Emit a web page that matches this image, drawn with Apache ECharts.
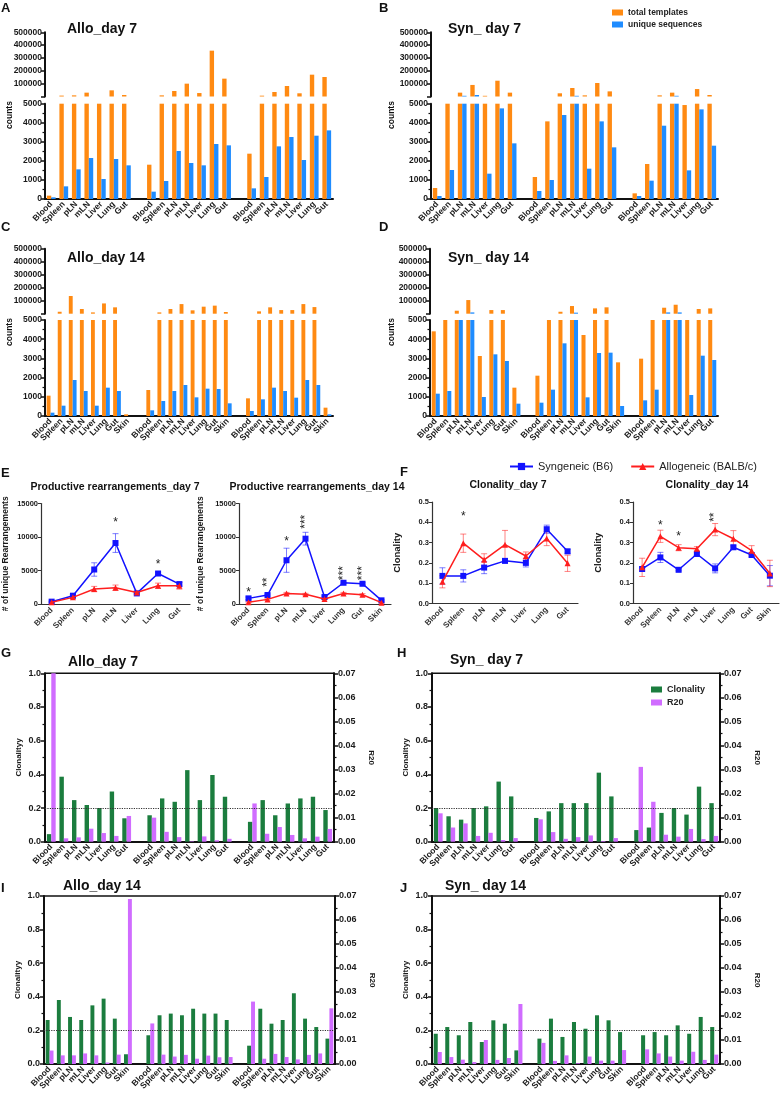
<!DOCTYPE html>
<html>
<head>
<meta charset="utf-8">
<title>TCR repertoire panels</title>
<script src="https://cdn.jsdelivr.net/npm/echarts@6/dist/echarts.min.js"></script>
<style>
html, body { margin: 0; padding: 0; background: #fff; }
#main { width: 783px; height: 1093px; }
</style>
</head>
<body>
<div id="main"></div>
<script>
// ---- categories ----
var tissues7 = ['Blood', 'Spleen', 'pLN', 'mLN', 'Liver', 'Lung', 'Gut'];
var tissues8 = ['Blood', 'Spleen', 'pLN', 'mLN', 'Liver', 'Lung', 'Gut', 'Skin'];

// ---- A: Allo day 7 counts (3 mice) ----
var alloD7Total = [[175, 7000, 9000, 30000, 5000, 48000, 11700], [1800, 9000, 43000, 100000, 27000, 357000, 139000], [2378, 6500, 35000, 82000, 25000, 170000, 152000]];
var alloD7Unique = [[87, 664, 1556, 2150, 1049, 2098, 1766], [385, 944, 2517, 1888, 1766, 2885, 2815], [559, 1154, 2762, 3252, 2045, 3322, 3601]];
// ---- B: Syn day 7 counts ----
var synD7Total = [[577, 5000, 30000, 90000, 5500, 123000, 30000], [1154, 4073, 25000, 66000, 9000, 105000, 40000], [297, 1836, 9000, 30000, 4930, 58000, 11700]];
var synD7Unique = [[157, 1521, 5500, 11700, 1329, 4755, 2920], [420, 997, 4406, 5500, 1591, 4073, 2710], [157, 962, 3846, 5500, 1503, 4703, 2797]];
// ---- C: Allo day 14 counts ----
var alloD14Total = [[1059, 15000, 136000, 36000, 10000, 79000, 49000, 87], [1354, 10000, 36000, 74000, 26000, 54000, 62000, 13000], [920, 18000, 49000, 28000, 28000, 74000, 51000, 434]];
var alloD14Unique = [[174, 538, 1875, 1302, 538, 1476, 1302, 0], [295, 781, 1302, 1615, 972, 1424, 1406, 660], [260, 868, 1476, 1302, 955, 1875, 1615, 87]];
// ---- D: Syn day 14 counts ----
var synD14Total = [[4410, 5000, 23000, 105000, 3125, 28000, 28000, 1476], [2100, 5000, 15000, 59000, 4219, 41000, 49000, 2795], [2986, 5000, 46000, 69000, 5000, 36000, 41000]];
var synD14Unique = [[1163, 1302, 5000, 10000, 990, 3212, 2865, 642], [694, 1372, 3785, 8000, 972, 3281, 3299, 521], [816, 1372, 10000, 10000, 1094, 3142, 2917]];

// ---- E: productive rearrangements (mean, sem) ----
var rearrSynD7 = [350, 1240, 5150, 9100, 1580, 4550, 2970];
var rearrSynD7Err = [100, 150, 1000, 1400, 150, 200, 300];
var rearrAlloD7 = [250, 990, 2230, 2430, 1730, 2720, 2720];
var rearrAlloD7Err = [100, 150, 400, 400, 150, 400, 500];
var rearrSynD14 = [840, 1340, 6530, 9750, 1040, 3170, 3020, 545];
var rearrSynD14Err = [200, 150, 1800, 950, 150, 100, 150, 100];
var rearrAlloD14 = [250, 690, 1580, 1440, 740, 1580, 1390, 200];
var rearrAlloD14Err = [100, 150, 150, 150, 100, 150, 150, 80];
// stars: [category index, text, y value, vertical]
var starsRearrD7 = [[3, '*', 12600, 0], [5, '*', 6290, 0]];
var starsRearrD14 = [[0, '*', 2080, 0], [1, '**', 3710, 1], [2, '*', 9750, 0], [3, '***', 12720, 1], [5, '***', 5050, 1], [6, '***', 5050, 1]];

// ---- F: clonality (mean, sem) ----
var clonSynD7 = [0.136, 0.136, 0.177, 0.21, 0.2, 0.366, 0.257];
var clonSynD7Err = [0.04, 0.03, 0.03, 0.01, 0.02, 0.02, 0.01];
var clonAlloD7 = [0.107, 0.297, 0.215, 0.29, 0.234, 0.32, 0.198];
var clonAlloD7Err = [0.03, 0.045, 0.03, 0.07, 0.02, 0.035, 0.04];
var clonSynD14 = [0.17, 0.227, 0.166, 0.244, 0.173, 0.277, 0.239, 0.137];
var clonSynD14Err = [0.01, 0.025, 0.005, 0.008, 0.022, 0.01, 0.01, 0.05];
var clonAlloD14 = [0.178, 0.331, 0.275, 0.27, 0.364, 0.319, 0.26, 0.148];
var clonAlloD14Err = [0.045, 0.03, 0.015, 0.01, 0.03, 0.04, 0.025, 0.065];
var starsClonD7 = [[1, '*', 0.443, 0]];
var starsClonD14 = [[1, '*', 0.40, 0], [2, '*', 0.346, 0], [4, '**', 0.44, 1]];

// ---- G-J: clonality & R20 per mouse ----
var gClon = [[0.045, 0.386, 0.247, 0.218, 0.2, 0.298, 0.139], [0.157, 0.257, 0.237, 0.425, 0.247, 0.396, 0.267], [0.118, 0.247, 0.157, 0.227, 0.257, 0.267, 0.188]];
var gR20 = [[0.07, 0.0014, 0.0018, 0.0054, 0.0036, 0.0024, 0.0107], [0.0100, 0.0041, 0.0019, 0.0002, 0.0022, 0.0006, 0.0012], [0.0159, 0.0033, 0.0061, 0.0028, 0.0014, 0.0021, 0.0053]];
var hClon = [[0.2, 0.151, 0.131, 0.2, 0.21, 0.357, 0.269], [0.141, 0.18, 0.229, 0.229, 0.229, 0.41, 0.269], [0.069, 0.084, 0.171, 0.2, 0.161, 0.327, 0.229]];
var hR20 = [[0.0118, 0.0059, 0.0076, 0.0024, 0.0037, 0.0007, 0.0015], [0.0093, 0.004, 0.0012, 0.0019, 0.0026, 0.0003, 0.0015], [0.0311, 0.0166, 0.0029, 0.0021, 0.0053, 0.0011, 0.0024]];
var iClon = [[0.262, 0.381, 0.28, 0.262, 0.349, 0.389, 0.27, 0.058], [0.171, 0.29, 0.3, 0.29, 0.329, 0.3, 0.3, 0.262], [0.109, 0.329, 0.24, 0.262, 0.421, 0.27, 0.22, 0.151]];
var iR20 = [[0.0056, 0.0036, 0.0036, 0.0044, 0.0036, 0.0006, 0.0039, 0.0688], [0.0169, 0.0039, 0.0031, 0.0038, 0.0022, 0.0035, 0.0028, 0.0029], [0.026, 0.0022, 0.0042, 0.0029, 0.0019, 0.0038, 0.0044, 0.0232]];
var jClon = [[0.18, 0.22, 0.171, 0.25, 0.131, 0.26, 0.24, 0.081], [0.151, 0.27, 0.161, 0.25, 0.21, 0.29, 0.26, 0.19], [0.171, 0.19, 0.171, 0.23, 0.18, 0.28, 0.22]];
var jR20 = [[0.005, 0.0029, 0.0018, 0.0008, 0.01, 0.0017, 0.0025, 0.025], [0.0088, 0.0013, 0.0036, 0.0003, 0.0031, 0.0014, 0.0014, 0.0058], [0.0061, 0.0044, 0.0031, 0.0014, 0.0051, 0.0017, 0.0039]];

var BREAK = 5000;
var FONT = '"Liberation Sans", Arial, Helvetica, sans-serif';
var AX = '#111';
var ORANGE = '#ff8a12', BLUE = '#1f8cff', GREEN = '#1b7d3e', VIOLET = '#d06cff';
var LBLUE = '#1212ff', LRED = '#ff1e1e';

// join the 3 mice with an empty slot between them
function withGaps(groups, blank) {
  var out = [];
  groups.forEach(function (g, i) {
    if (i) out.push(blank);
    out = out.concat(g);
  });
  return out;
}
function labelsFor(groups) {
  return withGaps(groups.map(function (g) { return g.length === 8 ? tissues8 : tissues7; }), '');
}
function upperPart(v) { return v != null && v > BREAK ? v : '-'; }
function lowerPart(v) { return v == null ? '-' : Math.min(v, BREAK); }
function lbl(size, extra) {
  return Object.assign({fontSize: size, fontWeight: 'bold', color: '#1a1a1a', fontFamily: FONT}, extra || {});
}

var grids = [], xAxes = [], yAxes = [], series = [];

function valueAxis(grid, min, max, interval, digits, extra) {
  return Object.assign({
    gridIndex: grid, type: 'value', min: min, max: max, interval: interval,
    axisLine: {show: true, lineStyle: {color: AX, width: 2}},
    axisTick: {show: true, length: 4, lineStyle: {color: AX, width: 1.5}},
    splitLine: {show: false},
    axisLabel: lbl(8.5, {margin: 3, formatter: function (v) { return digits == null ? String(v) : v.toFixed(digits); }})
  }, extra || {});
}

function countPanel(left, width, upTop, upH, lowTop, lowH, total, unique) {
  var labels = labelsFor(total);
  var tot = withGaps(total, null), uni = withGaps(unique, null);
  var gu = grids.length;
  grids.push({left: left, width: width, top: upTop, height: upH});
  grids.push({left: left, width: width, top: lowTop, height: lowH});
  var xu = xAxes.length;
  xAxes.push({gridIndex: gu, type: 'category', data: labels, show: false});
  xAxes.push({gridIndex: gu + 1, type: 'category', data: labels,
    axisLine: {lineStyle: {color: AX, width: 2}},
    axisTick: {alignWithLabel: true, length: 3, lineStyle: {color: AX, width: 1.5}},
    axisLabel: lbl(8.5, {interval: 0, rotate: 45, margin: 4})});
  var yu = yAxes.length;
  yAxes.push(valueAxis(gu, 0, 500000, 100000, null, {axisLabel: lbl(8.5, {margin: 3, formatter: function (v) { return v === 0 ? '' : String(v); }})}));
  yAxes.push(valueAxis(gu + 1, 0, BREAK, 1000, null, {minorTick: {show: true, splitNumber: 2, length: 2.5, lineStyle: {color: AX, width: 1.2}}}));
  var common = {type: 'bar', barGap: '0%', barCategoryGap: '30%', silent: true};
  series.push(Object.assign({name: 'total templates', xAxisIndex: xu, yAxisIndex: yu, itemStyle: {color: ORANGE}, data: tot.map(upperPart)}, common));
  series.push(Object.assign({name: 'unique sequences', xAxisIndex: xu, yAxisIndex: yu, itemStyle: {color: BLUE}, data: uni.map(upperPart)}, common));
  series.push(Object.assign({name: 'total templates', xAxisIndex: xu + 1, yAxisIndex: yu + 1, itemStyle: {color: ORANGE}, data: tot.map(lowerPart)}, common));
  series.push(Object.assign({name: 'unique sequences', xAxisIndex: xu + 1, yAxisIndex: yu + 1, itemStyle: {color: BLUE}, data: uni.map(lowerPart)}, common));
}

function clonPanel(left, width, top, height, clon, r20) {
  var labels = labelsFor(clon);
  var g = grids.length;
  grids.push({left: left, width: width, top: top, height: height, show: true, borderColor: AX, borderWidth: 1.5});
  var xi = xAxes.length;
  xAxes.push({gridIndex: g, type: 'category', data: labels,
    axisLine: {lineStyle: {color: AX, width: 2}},
    axisTick: {alignWithLabel: true, length: 3, lineStyle: {color: AX, width: 1.5}},
    axisLabel: lbl(8.5, {interval: 0, rotate: 45, margin: 4})});
  var yi = yAxes.length;
  var minor = {show: true, splitNumber: 2, length: 2.5, lineStyle: {color: AX, width: 1.2}};
  yAxes.push(valueAxis(g, 0, 1, 0.2, 1, {minorTick: minor, axisLabel: lbl(9, {margin: 4, formatter: function (v) { return v.toFixed(1); }}),
    name: 'Clonalityy', nameLocation: 'middle', nameGap: 22, nameTextStyle: lbl(8)}));
  yAxes.push(valueAxis(g, 0, 0.07, 0.01, 2, {position: 'right', minorTick: minor, axisLabel: lbl(9, {margin: 4, formatter: function (v) { return v.toFixed(2); }}),
    name: 'R20', nameLocation: 'middle', nameRotate: -90, nameGap: 33, nameTextStyle: lbl(8)}));
  var common = {type: 'bar', barGap: '0%', barCategoryGap: '30%', silent: true, xAxisIndex: xi};
  series.push(Object.assign({name: 'Clonality', yAxisIndex: yi, itemStyle: {color: GREEN}, data: withGaps(clon, '-'),
    markLine: {silent: true, symbol: 'none', label: {show: false}, lineStyle: {type: 'dotted', color: '#333', width: 1.2}, data: [{yAxis: 0.2}]}}, common));
  series.push(Object.assign({name: 'R20', yAxisIndex: yi + 1, itemStyle: {color: VIOLET}, data: withGaps(r20, '-')}, common));
}

function errSeries(xi, yi, mean, err, color) {
  return {type: 'custom', xAxisIndex: xi, yAxisIndex: yi, z: 1, silent: true,
    data: mean.map(function (m, i) { return [i, m - err[i], m + err[i]]; }),
    renderItem: function (params, api) {
      var lo = api.coord([api.value(0), api.value(1)]);
      var hi = api.coord([api.value(0), api.value(2)]);
      var w = 3, st = {stroke: color, lineWidth: 1, opacity: 0.55};
      return {type: 'group', children: [
        {type: 'line', shape: {x1: lo[0], y1: lo[1], x2: hi[0], y2: hi[1]}, style: st},
        {type: 'line', shape: {x1: lo[0] - w, y1: lo[1], x2: lo[0] + w, y2: lo[1]}, style: st},
        {type: 'line', shape: {x1: hi[0] - w, y1: hi[1], x2: hi[0] + w, y2: hi[1]}, style: st}]};
    }};
}

// significance stars drawn as text at a data position
function starSeries(xi, yi, stars) {
  return {type: 'custom', xAxisIndex: xi, yAxisIndex: yi, z: 6, silent: true,
    data: stars.map(function (s) { return [s[0], s[2], s[3]]; }),
    renderItem: function (params, api) {
      var p = api.coord([api.value(0), api.value(1)]);
      var s = stars[params.dataIndex];
      return {type: 'text', x: p[0], y: p[1] + 3, rotation: s[3] ? Math.PI / 2 : 0,
        style: {text: s[1], fontSize: 12, fontFamily: FONT, fill: '#222',
          textAlign: 'center', align: 'center', textVerticalAlign: 'middle', verticalAlign: 'middle'}};
    }};
}

function linePanel(left, width, top, height, labels, max, interval, digits, yName, nameGap, nameSize, syn, synErr, allo, alloErr, stars) {
  var g = grids.length;
  grids.push({left: left, width: width, top: top, height: height});
  var xi = xAxes.length;
  xAxes.push({gridIndex: g, type: 'category', data: labels,
    axisLine: {lineStyle: {color: '#333', width: 1.2}},
    axisTick: {alignWithLabel: true, length: 3, lineStyle: {color: '#333', width: 1}},
    axisLabel: lbl(8, {interval: 0, rotate: 45, margin: 5, color: '#333'})});
  var yi = yAxes.length;
  yAxes.push(valueAxis(g, 0, max, interval, digits, {
    axisLine: {show: true, lineStyle: {color: '#333', width: 1.2}},
    axisTick: {show: true, length: 3, lineStyle: {color: '#333', width: 1}},
    axisLabel: lbl(7.5, {margin: 3, formatter: function (v) { return digits == null ? String(v) : v.toFixed(digits); }}),
    name: yName, nameLocation: 'middle', nameGap: nameGap, nameTextStyle: lbl(nameSize)}));
  series.push(errSeries(xi, yi, syn, synErr, LBLUE));
  series.push(errSeries(xi, yi, allo, alloErr, LRED));
  series.push({type: 'line', name: 'Syngeneic (B6)', xAxisIndex: xi, yAxisIndex: yi, data: syn, z: 3, silent: true,
    symbol: 'rect', symbolSize: 6, color: LBLUE, lineStyle: {width: 1.5, color: LBLUE}, itemStyle: {color: LBLUE}});
  series.push({type: 'line', name: 'Allogeneic (BALB/c)', xAxisIndex: xi, yAxisIndex: yi, data: allo, z: 4, silent: true,
    symbol: 'triangle', symbolSize: 6, color: LRED, lineStyle: {width: 1.5, color: LRED}, itemStyle: {color: LRED}});
  series.push(starSeries(xi, yi, stars));
}

// ---- panels ----
countPanel(45, 288, 32.3, 64.2, 103.7, 95.3, alloD7Total, alloD7Unique);
countPanel(431, 287, 32.3, 64.2, 103.7, 95.3, synD7Total, synD7Unique);
countPanel(45, 288, 248.7, 65, 320, 96, alloD14Total, alloD14Unique);
countPanel(430, 288, 248.7, 65, 320, 96, synD14Total, synD14Unique);

linePanel(38, 152, 503.5, 100.5, tissues7, 15000, 5000, null, '# of unique Rearrangements', 31, 8.5, rearrSynD7, rearrSynD7Err, rearrAlloD7, rearrAlloD7Err, starsRearrD7);
linePanel(239, 152, 503.5, 100.5, tissues8, 15000, 5000, null, '# of unique Rearrangements', 34, 8.5, rearrSynD14, rearrSynD14Err, rearrAlloD14, rearrAlloD14Err, starsRearrD14);
linePanel(432, 146, 502, 101.5, tissues7, 0.5, 0.1, 1, 'Clonality', 30, 9.5, clonSynD7, clonSynD7Err, clonAlloD7, clonAlloD7Err, starsClonD7);
linePanel(633, 146, 502, 101.5, tissues8, 0.5, 0.1, 1, 'Clonality', 30, 9.5, clonSynD14, clonSynD14Err, clonAlloD14, clonAlloD14Err, starsClonD14);

clonPanel(45, 289, 673.3, 168.4, gClon, gR20);
clonPanel(432, 288, 673.3, 168.4, hClon, hR20);
clonPanel(44, 291, 896, 168, iClon, iR20);
clonPanel(432, 288, 896, 168, jClon, jR20);

// ---- free text: panel letters, titles, split-axis titles ----
function txt(x, y, s, size, extra) {
  var o = {type: 'text', x: x, y: y, silent: true, style: {text: s, fontSize: size, fontWeight: 'bold', fontFamily: FONT, fill: '#111',
    textAlign: 'left', align: 'left', textVerticalAlign: 'middle', verticalAlign: 'middle'}};
  if (extra && extra.align) { o.style.textAlign = extra.align; o.style.align = extra.align; }
  if (extra && extra.rotation) o.rotation = extra.rotation;
  return o;
}
var graphics = [
  txt(1, 8, 'A', 13), txt(379, 8, 'B', 13), txt(1, 227, 'C', 13), txt(379, 227, 'D', 13),
  txt(1, 473, 'E', 13), txt(400, 472, 'F', 13), txt(1, 653, 'G', 13), txt(397, 653, 'H', 13),
  txt(1, 888, 'I', 13), txt(400, 888, 'J', 13),
  txt(67, 29, 'Allo_day 7', 14), txt(448, 29, 'Syn_ day 7', 14),
  txt(67, 258, 'Allo_day 14', 14), txt(448, 258, 'Syn_ day 14', 14),
  txt(68, 662, 'Allo_day 7', 14), txt(450, 660, 'Syn_ day 7', 14),
  txt(63, 886, 'Allo_day 14', 14), txt(445, 886, 'Syn_ day 14', 14),
  txt(115, 487, 'Productive rearrangements_day 7', 10.5, {align: 'center'}),
  txt(317, 487, 'Productive rearrangements_day 14', 10.5, {align: 'center'}),
  txt(508, 485, 'Clonality_day 7', 10.5, {align: 'center'}),
  txt(707, 485, 'Clonality_day 14', 10.5, {align: 'center'}),
  txt(10, 115, 'counts', 8.5, {align: 'center', rotation: Math.PI / 2}),
  txt(392, 115, 'counts', 8.5, {align: 'center', rotation: Math.PI / 2}),
  txt(10, 332, 'counts', 8.5, {align: 'center', rotation: Math.PI / 2}),
  txt(392, 332, 'counts', 8.5, {align: 'center', rotation: Math.PI / 2})
];

var chart = echarts.init(document.getElementById('main'), null, {renderer: 'canvas'});
chart.setOption({
  animation: false,
  backgroundColor: '#fff',
  textStyle: {fontFamily: FONT},
  grid: grids,
  xAxis: xAxes,
  yAxis: yAxes,
  legend: [
    {data: ['total templates', 'unique sequences'], orient: 'vertical', left: 607, top: 3, icon: 'rect',
      itemWidth: 11, itemHeight: 6, itemGap: 3, selectedMode: false, textStyle: lbl(8.5, {color: '#222'})},
    {data: ['Syngeneic (B6)', 'Allogeneic (BALB/c)'], orient: 'horizontal', left: 504, top: 456,
      itemWidth: 23, itemHeight: 9, itemGap: 17, selectedMode: false, textStyle: {fontSize: 11, color: '#222', fontFamily: FONT}},
    {data: ['Clonality', 'R20'], orient: 'vertical', left: 646, top: 680, icon: 'rect',
      itemWidth: 11, itemHeight: 6, itemGap: 4, selectedMode: false, textStyle: lbl(9, {color: '#222'})}
  ],
  graphic: graphics,
  series: series
});
</script>
</body>
</html>
